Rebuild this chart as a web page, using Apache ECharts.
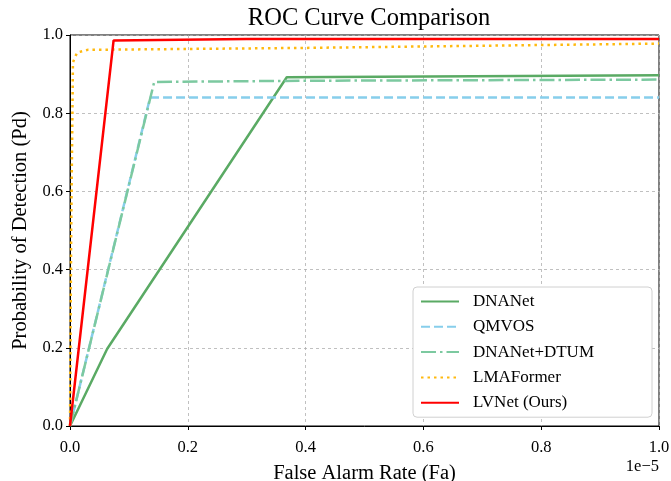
<!DOCTYPE html>
<html>
<head>
<meta charset="utf-8">
<script src="https://cdn.jsdelivr.net/npm/echarts@6/dist/echarts.min.js"></script>
<style>
  html, body { margin: 0; padding: 0; background: #fff; }
  #chart { width: 671px; height: 481px; }
</style>
</head>
<body>
<div id="chart"></div>
<script>
// x in units of 1e-5
const dnanet = [[0, 0], [0.063, 0.197], [0.368, 0.892], [1.0, 0.897]]
const qmvos = [[0, 0], [0.136, 0.840], [1.0, 0.840]]
const dnanetDtum = [[0, 0], [0.143, 0.880], [0.4, 0.883], [1.0, 0.886]]
const lmaformer = [[0, 0], [0.002, 0.5], [0.005, 0.93], [0.012, 0.955], [0.03, 0.962], [0.1, 0.963], [0.4, 0.967], [1.0, 0.978]]
const lvnet = [[0, 0], [0.074, 0.986], [0.3, 0.99], [1.0, 0.99]]
const xTicks = [0, 0.2, 0.4, 0.6, 0.8, 1.0]
const yTicks = [0, 0.2, 0.4, 0.6, 0.8, 1.0]

const serif = '"Liberation Serif", "DejaVu Serif", serif'

function line (name, data, color, type) {
  return {
    name: name,
    type: 'line',
    data: data,
    symbol: 'none',
    lineStyle: { color: color, type: type, width: 2.5 },
    itemStyle: { color: color }
  }
}

var myChart = echarts.init(document.getElementById('chart'))
var option = {
  animation: false,
  textStyle: { fontFamily: serif },
  title: {
    text: 'ROC Curve Comparison',
    left: 364,
    textAlign: 'center',
    top: 1,
    textStyle: { fontFamily: serif, fontSize: 24.5, fontWeight: 'normal', color: '#000' }
  },
  grid: {
    left: 70, right: 12, top: 35, bottom: 55,
    outerBoundsMode: 'none',
    containLabel: false,
    show: true, borderColor: '#000', borderWidth: 1
  },
  xAxis: {
    type: 'value',
    min: xTicks[0],
    max: xTicks[xTicks.length - 1],
    interval: 0.2,
    name: 'False Alarm Rate (Fa)',
    nameLocation: 'middle',
    nameGap: 37,
    nameTextStyle: { fontFamily: serif, fontSize: 20.5, color: '#000' },
    axisLine: { lineStyle: { color: '#000', width: 1 } },
    axisTick: { show: true, length: 4, lineStyle: { color: '#000' } },
    axisLabel: {
      fontFamily: serif, fontSize: 16.5, color: '#000', margin: 13,
      formatter: function (v) { return v.toFixed(1) }
    },
    splitLine: { show: true, lineStyle: { color: '#b0b0b0', type: [3, 3], width: 0.8 } }
  },
  yAxis: {
    type: 'value',
    min: yTicks[0],
    max: yTicks[yTicks.length - 1],
    interval: 0.2,
    name: 'Probability of Detection (Pd)',
    nameLocation: 'middle',
    nameGap: 38,
    nameTextStyle: { fontFamily: serif, fontSize: 20.5, color: '#000' },
    axisLine: { show: true, lineStyle: { color: '#000', width: 1 } },
    axisTick: { show: true, length: 4, lineStyle: { color: '#000' } },
    axisLabel: {
      fontFamily: serif, fontSize: 16.5, color: '#000', margin: 7,
      formatter: function (v) { return v.toFixed(1) }
    },
    splitLine: { show: true, lineStyle: { color: '#b0b0b0', type: [3, 3], width: 0.8 } }
  },
  legend: {
    orient: 'vertical',
    left: 413,
    top: 287,
    padding: [6, 58, 6, 7],
    itemGap: 8.3,
    itemWidth: 38,
    itemHeight: 17,
    itemStyle: { opacity: 0 },
    backgroundColor: '#fff',
    borderColor: '#d0d0d0',
    borderWidth: 1,
    borderRadius: 4,
    textStyle: { fontFamily: serif, fontSize: 17, lineHeight: 17, color: '#000', padding: [0, 0, 0, 9] },
    data: ['DNANet', 'QMVOS', 'DNANet+DTUM', 'LMAFormer', 'LVNet (Ours)']
  },
  graphic: [{
    type: 'text',
    right: 12,
    top: 458,
    style: { text: '1e\u22125', font: '16.5px ' + serif, fill: '#000' }
  }],
  series: [
    line('DNANet', dnanet, '#5aaa64', 'solid'),
    line('QMVOS', qmvos, '#87ceeb', [9, 4]),
    line('DNANet+DTUM', dnanetDtum, '#7cc9a0', [15, 4, 2.5, 4]),
    line('LMAFormer', lmaformer, '#ffb90f', [2.5, 4]),
    line('LVNet (Ours)', lvnet, '#ff0000', 'solid')
  ]
}
myChart.setOption(option)
</script>
</body>
</html>
